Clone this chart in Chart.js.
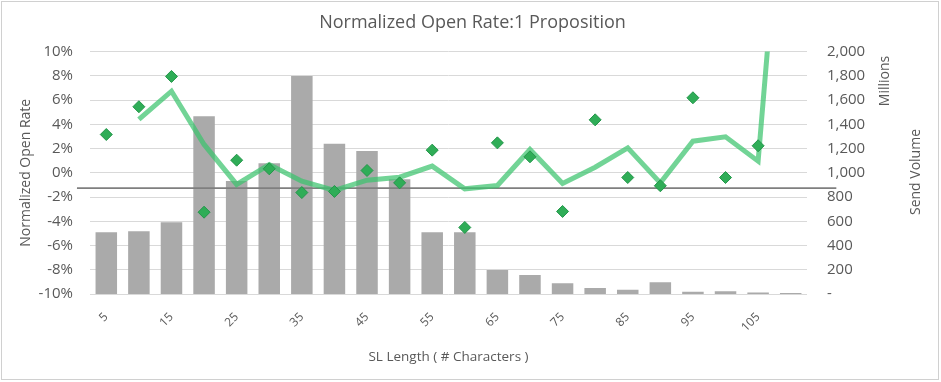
<!DOCTYPE html>
<html>
<head>
<meta charset="utf-8">
<script src="https://cdn.jsdelivr.net/npm/chart.js@4/dist/chart.umd.min.js"></script>
<style>
html,body{margin:0;padding:0;background:#fff;}
#wrap{width:941px;height:382px;position:relative;}
</style>
</head>
<body>
<div id="wrap"><canvas id="c" width="941" height="382"></canvas></div>
<script>
// ---- data ----
const categories = ['5','10','15','20','25','30','35','40','45','50','55','60','65','70','75','80','85','90','95','100','105','110'];
const sendVolume = [509, 517, 592, 1466, 932, 1078, 1799, 1240, 1180, 946, 509, 509, 198, 157, 88, 50, 36, 96, 19, 23, 12, 8];
const openRate = [3.16, 5.45, 7.95, -3.25, 1.04, 0.33, -1.63, -1.54, 0.19, -0.83, 1.87, -4.51, 2.47, 1.32, -3.19, 4.37, -0.39, -1.07, 6.19, -0.39, 2.23, null];
const trendLine = [null, 4.4, 6.73, 2.34, -0.96, 0.68, -0.69, -1.46, -0.61, -0.36, 0.55, -1.32, -1.05, 1.92, -0.88, 0.46, 2.06, -0.83, 2.61, 2.97, 0.96, 33];
const averageValue = -1.26;
const averageSpan = [-0.9, 22.4];
const leftTicks = [-10, -8, -6, -4, -2, 0, 2, 4, 6, 8, 10];
const rightTicks = [0, 200, 400, 600, 800, 1000, 1200, 1400, 1600, 1800, 2000];

const FONT = "'Open Sans', 'Liberation Sans', sans-serif";
const GREY_TXT = '#595959';

const sideTitles = {
  id: 'sideTitles',
  beforeDraw(chart) {
    const ctx = chart.ctx;
    ctx.save();
    ctx.fillStyle = '#ffffff';
    ctx.fillRect(0, 0, chart.width, chart.height);
    ctx.restore();
  },
  afterDraw(chart) {
    const ctx = chart.ctx;
    ctx.save();
    ctx.fillStyle = GREY_TXT;
    ctx.font = "14px " + FONT;
    ctx.textAlign = 'center';
    ctx.textBaseline = 'middle';
    ctx.translate(885, 81);
    ctx.rotate(-Math.PI / 2);
    ctx.fillText('Millions', 0, 0);
    ctx.restore();
    ctx.save();
    ctx.fillStyle = GREY_TXT;
    ctx.font = "14px " + FONT;
    ctx.textAlign = 'center';
    ctx.textBaseline = 'middle';
    ctx.translate(916, 172);
    ctx.rotate(-Math.PI / 2);
    ctx.fillText('Send Volume', 0, 0);
    ctx.restore();
    ctx.save();
    ctx.strokeStyle = '#d0d0d0';
    ctx.lineWidth = 1;
    ctx.strokeRect(1.5, 1.5, 937, 378);
    ctx.restore();
  }
};

new Chart(document.getElementById('c'), {
  data: {
    labels: categories,
    datasets: [
      {
        type: 'line',
        label: 'Normalized Open Rate',
        data: openRate,
        yAxisID: 'y',
        showLine: false,
        pointStyle: 'rectRot',
        pointRadius: 6,
        pointBackgroundColor: '#2fad57',
        pointBorderColor: '#23964a',
        pointBorderWidth: 1,
        order: 0
      },
      {
        type: 'line',
        label: 'Trend',
        data: trendLine,
        yAxisID: 'y',
        borderColor: 'rgba(60,195,110,0.72)',
        borderWidth: 5,
        pointRadius: 0,
        tension: 0,
        spanGaps: false,
        order: 1
      },
      {
        type: 'line',
        label: 'Average',
        data: averageSpan.map(x => ({x: x, y: averageValue})),
        xAxisID: 'xl',
        yAxisID: 'y',
        borderColor: '#7f7f7f',
        borderWidth: 1.75,
        pointRadius: 0,
        clip: false,
        order: 2
      },
      {
        type: 'bar',
        label: 'Send Volume',
        data: sendVolume,
        xAxisID: 'x',
        yAxisID: 'y2',
        backgroundColor: '#aaaaaa',
        grouped: false,
        categoryPercentage: 1,
        barPercentage: 0.66,
        order: 3
      }
    ]
  },
  options: {
    responsive: false,
    animation: false,
    devicePixelRatio: 1,
    layout: { padding: { left: 4, right: 0, top: 0, bottom: 0 } },
    plugins: {
      legend: { display: false },
      tooltip: { enabled: false },
      title: {
        display: true,
        text: 'Normalized Open Rate:1 Proposition',
        color: GREY_TXT,
        font: { family: FONT, size: 18, weight: 'normal' },
        padding: { top: 12, bottom: 18 }
      }
    },
    scales: {
      x: {
        type: 'category',
        grid: { display: false },
        border: { display: false },
        ticks: {
          color: GREY_TXT,
          font: { family: FONT, size: 12 },
          autoSkip: false,
          maxRotation: 45,
          minRotation: 45,
          padding: 8,
          callback: function(v, i) { return i % 2 === 0 ? categories[i] : ''; }
        },
        title: {
          display: true,
          text: 'SL Length ( # Characters )',
          color: GREY_TXT,
          font: { family: FONT, size: 13.5 },
          padding: { top: 0, bottom: 17 }
        },
        afterFit(scale) { scale.height = 88; }
      },
      xl: {
        type: 'linear',
        display: false,
        min: -0.5,
        max: 21.5
      },
      y: {
        position: 'left',
        min: -10,
        max: 10,
        afterBuildTicks(scale) { scale.ticks = leftTicks.map(v => ({value: v})); },
        grid: { color: '#d9d9d9', drawTicks: false },
        border: { display: false },
        ticks: {
          color: GREY_TXT,
          font: { family: FONT, size: 15 },
          padding: 17,
          callback: v => v + '%'
        },
        title: {
          display: true,
          text: 'Normalized Open Rate',
          color: GREY_TXT,
          font: { family: FONT, size: 14 },
          padding: { top: 14, bottom: 0 }
        },
        afterFit(scale) { scale.width = 86; }
      },
      y2: {
        position: 'right',
        min: 0,
        max: 2000,
        afterBuildTicks(scale) { scale.ticks = rightTicks.map(v => ({value: v})); },
        grid: { display: false, drawTicks: false },
        border: { display: false },
        ticks: {
          color: GREY_TXT,
          font: { family: FONT, size: 15 },
          padding: 20,
          callback: v => v === 0 ? '-' : v.toLocaleString('en-US')
        },
        afterFit(scale) { scale.width = 134; }
      }
    }
  },
  plugins: [sideTitles]
});
</script>
</body>
</html>
